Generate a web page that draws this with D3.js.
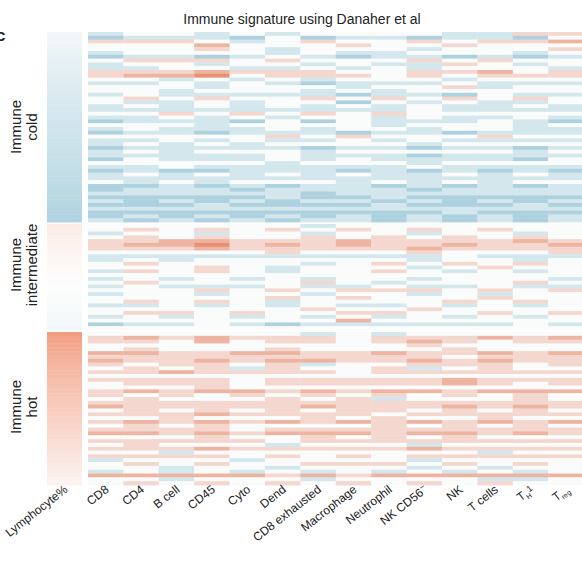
<!DOCTYPE html>
<html>
<head>
<meta charset="utf-8">
<script src="https://cdn.jsdelivr.net/npm/d3@7"></script>
<style>
  body { margin: 0; background: #fff; }
  text { font-family: "Liberation Sans", Arial, sans-serif; fill: #222; }
</style>
</head>
<body>
<script>
// heatmap of immune signatures, rows grouped cold / intermediate / hot
var columns = ["CD8", "CD4", "B cell", "CD45", "Cyto", "Dend", "CD8 exhausted", "Macrophage",
               "Neutrophil", "NK CD56-", "NK", "T cells", "TH1", "Treg"];
var groupNames = ["cold", "intermediate", "hot"];

// one string per sample, one digit per column: 5 = neutral, <5 blue, >5 red
var coldRows = [
  "45545455554466", "34443534434435", "66654565565667", "55575556556555", "55565455545556",
  "45555454455545", "34434543443434", "56665655565655", "45545545446545", "44554454545554",
  "66676665566756", "67785666565666", "55454545554555", "44545434445444", "55545554556455",
  "55455545455555", "45444443443544", "56565565656565", "54454553545445", "45454545454454",
  "44444444454444", "55656565655555", "44545455454454", "34443535444543", "55545555455545",
  "45444545545544", "34434443443444", "55555656555655", "44545445454444", "45454555545555",
  "34444434434434", "45455545555545", "44444544434444", "35444545444435", "55555455545555",
  "44544444454444", "34334443434343", "45454545445454", "44444444444444", "54545554545455",
  "33434344343434", "34443444434444", "44444434444444", "33333433433333", "43434344343434",
  "33343333433343", "44444444444444", "33333333334333", "34343434343434", "43434344343434"
];
var intermediateRows = [
  "55555545555555", "56565656565655", "45545545545545", "56565565656565", "66776667666676",
  "67786767667667", "66676666676666", "55555655565556", "44444444445444", "45455555545545",
  "56555545656565", "55565455545655", "46565455654545", "55555555555555", "45454545545554",
  "56555565455565", "45444544544544", "55565656665656", "45545545545455", "55555656555655",
  "56565455556565", "44545454454545", "55555565565555", "56656556655656", "45454545454545",
  "55555557555555", "34454344444454", "55555555555555"
];
var hotRows = [
  "55555545455555", "67676665666767", "66575665676566", "55555555565555", "56555655556555",
  "77667766766767", "66666666665666", "76676776676766", "65665645566656", "56564655645655",
  "66766665666666", "55555555555555", "66665666667666", "56665666667656", "55565555555555",
  "67677676776777", "65656565656565", "56555656455565", "66666666666666", "76666676667676",
  "56565656656565", "66676666566666", "55655565655655", "67676767676767", "56565555656565",
  "66665666666666", "77676777677676", "55565565656555", "66666566666666", "56555455545555",
  "66676666676666", "55455555555455", "66665656566666", "45554555545555", "56565566656565",
  "55455455545455", "45454545454545", "77777676777777", "55455545555445", "56565656565655"
];

// lymphocyte% (scaled) per sample, sorted inside each group
var coldLymph = [-0.28, -0.33, -0.37, -0.42, -0.45, -0.50, -0.54, -0.56, -0.61, -0.64,
                 -0.66, -0.71, -0.74, -0.77, -0.80, -0.84, -0.86, -0.91, -0.93, -0.97,
                 -1.00, -1.02, -1.07, -1.09, -1.13, -1.15, -1.19, -1.22, -1.24, -1.29,
                 -1.31, -1.35, -1.37, -1.41, -1.44, -1.46, -1.51, -1.53, -1.58, -1.60,
                 -1.63, -1.68, -1.70, -1.75, -1.78, -1.83, -1.86, -1.91, -1.95, -2.01];
var intermediateLymph = [0.46, 0.41, 0.37, 0.33, 0.31, 0.27, 0.24, 0.22, 0.18, 0.16,
                         0.13, 0.11, 0.08, 0.07, 0.04, 0.02, 0.00, -0.02, -0.04, -0.07,
                         -0.09, -0.12, -0.14, -0.17, -0.20, -0.23, -0.26, -0.31];
var hotLymph = [2.42, 2.31, 2.23, 2.14, 2.08, 2.01, 1.93, 1.88, 1.81, 1.77,
                1.70, 1.66, 1.59, 1.55, 1.48, 1.44, 1.40, 1.33, 1.29, 1.25,
                1.18, 1.15, 1.08, 1.04, 0.99, 0.95, 0.88, 0.85, 0.78, 0.75,
                0.68, 0.65, 0.58, 0.55, 0.48, 0.45, 0.38, 0.35, 0.29, 0.25];

var rowsByGroup = [coldRows, intermediateRows, hotRows];
var lymphByGroup = [coldLymph, intermediateLymph, hotLymph];

var W = 582, H = 563;
var groupTop = [32, 224, 332], groupBottom = [222, 330, 485];
var labelY = [127, 265, 407];

var svg = d3.select("body").append("svg")
    .attr("width", W)
    .attr("height", H);

var x = d3.scaleBand().domain(columns).range([88, 583.6]);
var lymphX = d3.scaleBand().domain(["Lymphocyte%"]).range([47, 82]);

var color = d3.scaleLinear()
    .domain([-4, 0, 4])
    .range(["#5fa6c0", "#fafcfc", "#e06c46"]);
var lymphColor = d3.scaleLinear()
    .domain([-2.5, 0, 2.5])
    .range(["#9cc9d8", "#fdfdfd", "#f29a7d"]);

groupNames.forEach(function(g, gi) {
  var rows = rowsByGroup[gi];
  var y = d3.scaleBand().domain(d3.range(rows.length)).range([groupTop[gi], groupBottom[gi]]);
  var gg = svg.append("g").attr("class", "group-" + g);

  // lymphocyte column
  gg.selectAll("rect.lymph")
    .data(lymphByGroup[gi])
    .enter().append("rect")
      .attr("class", "lymph")
      .attr("x", lymphX("Lymphocyte%"))
      .attr("y", function(d, i) { return y(i); })
      .attr("width", lymphX.bandwidth())
      .attr("height", y.bandwidth() + 0.4)
      .attr("fill", function(d) { return lymphColor(d); });

  // signature cells
  var cells = [];
  rows.forEach(function(r, ri) {
    columns.forEach(function(c, ci) {
      cells.push({row: ri, col: c, v: +r[ci] - 5});
    });
  });
  gg.selectAll("rect.cell")
    .data(cells)
    .enter().append("rect")
      .attr("class", "cell")
      .attr("x", function(d) { return x(d.col); })
      .attr("y", function(d) { return y(d.row); })
      .attr("width", x.bandwidth() + 0.3)
      .attr("height", y.bandwidth() + 0.4)
      .attr("fill", function(d) { return color(d.v); });

  // group label
  var lab = svg.append("text")
      .attr("transform", "translate(0," + labelY[gi] + ") rotate(-90)")
      .attr("text-anchor", "middle")
      .style("font-size", "15px");
  lab.append("tspan").attr("x", 0).attr("y", 21).text("Immune");
  lab.append("tspan").attr("x", 0).attr("y", 37).text(g);
});

// title + panel letter
svg.append("text")
    .attr("x", 302).attr("y", 24)
    .attr("text-anchor", "middle")
    .style("font-size", "14px")
    .text("Immune signature using Danaher et al");
svg.append("text")
    .attr("x", -4).attr("y", 41)
    .style("font-size", "17px").style("font-weight", "bold")
    .text("c");

// column labels
var labels = [{name: "Lymphocyte%", cx: lymphX("Lymphocyte%") + lymphX.bandwidth() / 2}]
  .concat(columns.map(function(c) { return {name: c, cx: x(c) + x.bandwidth() / 2}; }));

var tl = svg.selectAll("text.col")
  .data(labels)
  .enter().append("text")
    .attr("class", "col")
    .attr("text-anchor", "end")
    .attr("transform", function(d) { return "translate(" + (d.cx + 4) + ",491) rotate(-38)"; })
    .style("font-size", "12px");

tl.each(function(d) {
  var t = d3.select(this);
  if (d.name == "NK CD56-") {
    t.append("tspan").text("NK CD56");
    t.append("tspan").attr("dy", -4).style("font-size", "9px").text("\u2212");
  } else if (d.name == "TH1") {
    t.append("tspan").text("T");
    t.append("tspan").attr("dy", 3).style("font-size", "7px").text("H");
    t.append("tspan").attr("dy", -5).style("font-size", "9px").text("1");
  } else if (d.name == "Treg") {
    t.append("tspan").text("T");
    t.append("tspan").attr("dy", 3).style("font-size", "7px").text("reg");
  } else {
    t.text(d.name);
  }
});
</script>
</body>
</html>
